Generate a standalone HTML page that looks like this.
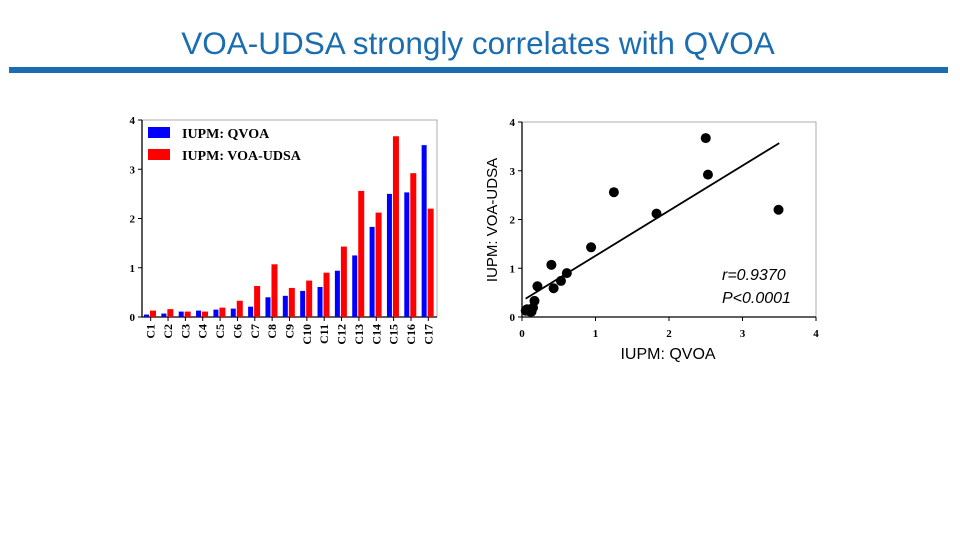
<!DOCTYPE html>
<html><head><meta charset="utf-8">
<style>
body{margin:0;width:960px;height:540px;background:#fff;overflow:hidden;position:relative;font-family:"Liberation Sans",sans-serif}
#title{position:absolute;left:0;width:956px;top:25px;text-align:center;font-size:31.5px;color:#1a6db0;line-height:36px}
#rule{position:absolute;left:9px;top:67px;width:939px;height:6px;background:#1a6db0}
svg{position:absolute;left:0;top:0}
</style></head><body>
<div id="title">VOA-UDSA strongly correlates with QVOA</div>
<div id="rule"></div>
<svg id="c" width="960" height="540"></svg>
<script>
const categories=["C1","C2","C3","C4","C5","C6","C7","C8","C9","C10","C11","C12","C13","C14","C15","C16","C17"];
const qvoa=[0.05,0.07,0.11,0.13,0.15,0.17,0.21,0.40,0.43,0.53,0.61,0.94,1.25,1.83,2.50,2.53,3.49];
const udsa=[0.13,0.16,0.11,0.11,0.19,0.33,0.63,1.07,0.59,0.74,0.90,1.43,2.56,2.12,3.67,2.92,2.20];
const yTicks=[0,1,2,3,4];
const xTicks=[0,1,2,3,4];
const fitLine=[0.33,0.925]; // intercept, slope
const fitRange=[0.05,3.5];
const stats=["r=0.9370","P<0.0001"];

const NS="http://www.w3.org/2000/svg";
const svg=document.getElementById('c');
function mk(t,a,p){const e=document.createElementNS(NS,t);for(const k in a)e.setAttribute(k,a[k]);(p||svg).appendChild(e);return e;}

// Bar chart
const bx0=142,bx1=437,by0=317,by1=120;
const by=v=>by0-(v/4)*(by0-by1);
const gw=(bx1-bx0)/categories.length;
const bg=mk('g',{});


mk('rect',{x:bx0,y:by1,width:bx1-bx0,height:by0-by1,fill:'none',stroke:'#999','stroke-width':0.8},bg);
mk('line',{x1:bx0,y1:by1,x2:bx0,y2:by0,stroke:'#000','stroke-width':1.3},bg);
mk('line',{x1:bx0,y1:by0,x2:bx1,y2:by0,stroke:'#000','stroke-width':1.3},bg);
yTicks.forEach(t=>{
  mk('line',{x1:bx0-4,y1:by(t),x2:bx0,y2:by(t),stroke:'#000'},bg);
  const tx=mk('text',{x:bx0-7,y:by(t)+4,'text-anchor':'end','font-family':'Liberation Serif,serif','font-weight':'bold','font-size':11},bg);
  tx.textContent=t;
  
  
});
categories.forEach((c,i)=>{
  const gx=bx0+i*gw;
  const b=mk('rect',{x:gx+2,y:by(qvoa[i]),width:5,height:by0-by(qvoa[i]),fill:'#0000ff'},bg);
  
  
  const r=mk('rect',{x:gx+8,y:by(udsa[i]),width:6,height:by0-by(udsa[i]),fill:'#ff0000'},bg);
  
  
  mk('line',{x1:gx+gw/2,y1:by0,x2:gx+gw/2,y2:by0+4,stroke:'#000'},bg);
  const cx=gx+gw/2+4,cy=by0+7;
  const l=mk('text',{x:cx,y:cy,transform:`rotate(-90 ${cx} ${cy})`,'text-anchor':'end','font-family':'Liberation Serif,serif','font-weight':'bold','font-size':12},bg);
  l.textContent=c;
  
  
});
[['#0000ff','IUPM: QVOA',127],['#ff0000','IUPM: VOA-UDSA',149]].forEach(([col,txt,y])=>{
  const g=mk('g',{},bg);
  
  
  mk('rect',{x:148,y:y,width:22,height:11,fill:col},g);
  const t=mk('text',{x:182,y:y+11,'font-family':'Liberation Serif,serif','font-weight':'bold','font-size':14},g);
  t.textContent=txt;
});

// Scatter
const sx0=522,sx1=816,sy0=317,sy1=122;
const sx=v=>sx0+(v/4)*(sx1-sx0);
const sy=v=>sy0-(v/4)*(sy0-sy1);
const sg=mk('g',{});


mk('rect',{x:sx0,y:sy1,width:sx1-sx0,height:sy0-sy1,fill:'none',stroke:'#999','stroke-width':0.8},sg);
mk('line',{x1:sx0,y1:sy1,x2:sx0,y2:sy0,stroke:'#000','stroke-width':1.3},sg);
mk('line',{x1:sx0,y1:sy0,x2:sx1,y2:sy0,stroke:'#000','stroke-width':1.3},sg);
yTicks.forEach(t=>{
  mk('line',{x1:sx0-4,y1:sy(t),x2:sx0,y2:sy(t),stroke:'#000'},sg);
  const tx=mk('text',{x:sx0-7,y:sy(t)+4,'text-anchor':'end','font-family':'Liberation Serif,serif','font-weight':'bold','font-size':11},sg);
  tx.textContent=t;
  
  
});
xTicks.forEach(t=>{
  mk('line',{x1:sx(t),y1:sy0,x2:sx(t),y2:sy0+4,stroke:'#000'},sg);
  const tx=mk('text',{x:sx(t),y:sy0+20,'text-anchor':'middle','font-family':'Liberation Serif,serif','font-weight':'bold','font-size':11},sg);
  tx.textContent=t;
  
  
});
const fl=mk('line',{x1:sx(fitRange[0]),y1:sy(fitLine[0]+fitLine[1]*fitRange[0]),x2:sx(fitRange[1]),y2:sy(fitLine[0]+fitLine[1]*fitRange[1]),stroke:'#000','stroke-width':1.8},sg);


qvoa.forEach((q,i)=>{
  const p=mk('circle',{cx:sx(q),cy:sy(udsa[i]),r:5,fill:'#000'},sg);
  
  
});
stats.forEach((s,i)=>{
  const t=mk('text',{x:722,y:280+i*23,'font-style':'italic','font-size':16},sg);
  t.textContent=s;
  
  
});
const xt=mk('text',{x:668,y:359,'text-anchor':'middle','font-size':16},sg);
xt.textContent='IUPM: QVOA';


const yt=mk('text',{x:497,y:220,transform:'rotate(-90 497 220)','text-anchor':'middle','font-size':15},sg);
yt.textContent='IUPM: VOA-UDSA';


</script>
</body></html>
